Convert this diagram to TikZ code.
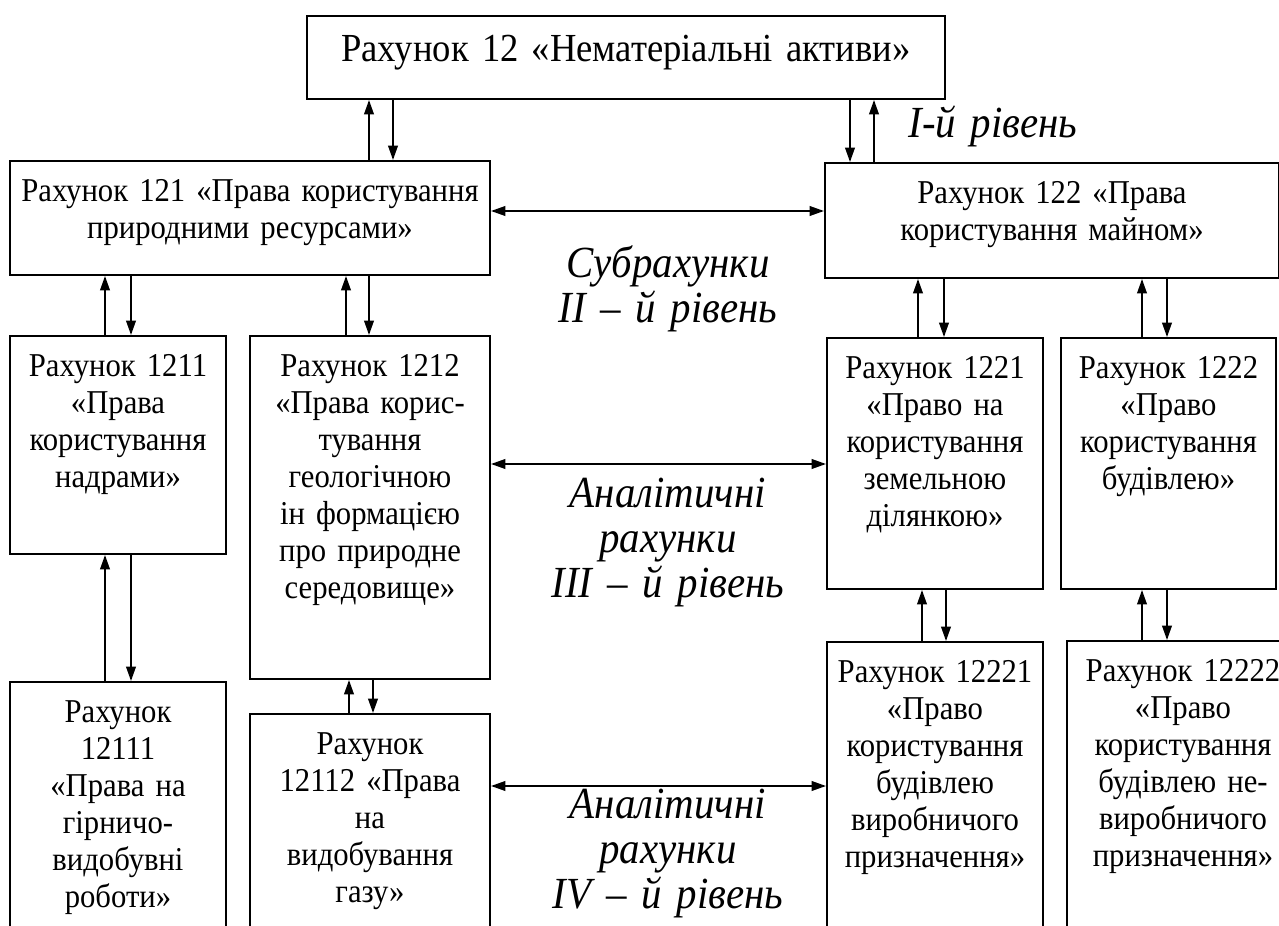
\documentclass[tikz,border=0pt]{standalone}
\usepackage{fontspec}
\setmainfont{Liberation Serif}[FakeStretch=0.92]
\usetikzlibrary{arrows.meta}

\tikzset{
    acct/.style={draw, line width=0.9pt, anchor=north west, align=center, inner sep=0pt,
        text height=18pt, font=\fontsize{15}{16.7}\selectfont},
    lvl/.style={anchor=base, align=center, text width=130pt, font=\fontsize{20}{20.3}\selectfont\itshape}
}

\begin{document}
\begin{tikzpicture}[x=0.45pt, y=-0.45pt, >={Triangle[length=6.5pt,width=4.4pt]}, line width=0.7pt]
    \clip (0,0) rectangle (1279,926);

    % accounts
    \node[acct, text width=287.1pt, text height=20.25pt, text depth=17.1pt, font=\fontsize{17.9}{19}\selectfont] (n12) at (306,15) {Рахунок 12 «Нематеріальні активи»};

    \node[acct, text width=216pt, text depth=33.3pt] (n121) at (9,160) {Рахунок 121 «Права користування\\природними ресурсами»};
    \node[acct, text width=204.3pt, text depth=33.75pt] (n122) at (824,162) {Рахунок 122 «Права\\користування майном»};

    \node[acct, text width=97.2pt, text depth=80.1pt] (n1211) at (9,335) {Рахунок 1211\\«Права\\користування\\надрами»};
    \node[acct, text width=108pt, text depth=136.35pt] (n1212) at (249,335) {Рахунок 1212\\«Права корис-\\тування\\геологічною\\ін формацією\\про природне\\середовище»};
    \node[acct, text width=97.2pt, text depth=94.95pt] (n1221) at (826,337) {Рахунок 1221\\«Право на\\користування\\земельною\\ділянкою»};
    \node[acct, text width=96.75pt, text depth=94.95pt] (n1222) at (1060,337) {Рахунок 1222\\«Право\\користування\\будівлею»};

    \node[acct, text width=97.2pt, text depth=107.55pt] (n12111) at (9,681) {Рахунок\\12111\\«Права на\\гірничо-\\видобувні\\роботи»};
    \node[acct, text width=108pt, text depth=93.15pt] (n12112) at (249,713) {Рахунок\\12112 «Права\\на\\видобування\\газу»};
    \node[acct, text width=97.2pt, text depth=125.55pt] (n12221) at (826,641) {Рахунок 12221\\«Право\\користування\\будівлею\\виробничого\\призначення»};
    \node[acct, text width=104.4pt, text depth=126pt] (n12222) at (1066,640) {Рахунок 12222\\«Право\\користування\\будівлею не-\\виробничого\\призначення»};

    % levels
    \node[lvl] (l1) at (993,137) {І-й рівень};
    \node[lvl] (l2) at (668,277) {Субрахунки\\ІІ – й рівень};
    \node[lvl] (l3) at (668,507) {Аналітичні\\рахунки\\ІІІ – й рівень};
    \node[lvl] (l4) at (668,818) {Аналітичні\\рахунки\\IV – й рівень};

    % up and down
    \draw[->] (369,0 |- n121.north) -- (369,0 |- n12.south);
    \draw[->] (393,0 |- n12.south) -- (393,0 |- n121.north);
    \draw[->] (850,0 |- n12.south) -- (850,0 |- n122.north);
    \draw[->] (874,0 |- n122.north) -- (874,0 |- n12.south);

    \draw[->] (105,0 |- n1211.north) -- (105,0 |- n121.south);
    \draw[->] (131,0 |- n121.south) -- (131,0 |- n1211.north);
    \draw[->] (346,0 |- n1212.north) -- (346,0 |- n121.south);
    \draw[->] (369,0 |- n121.south) -- (369,0 |- n1212.north);
    \draw[->] (918,0 |- n1221.north) -- (918,0 |- n122.south);
    \draw[->] (944,0 |- n122.south) -- (944,0 |- n1221.north);
    \draw[->] (1142,0 |- n1222.north) -- (1142,0 |- n122.south);
    \draw[->] (1167,0 |- n122.south) -- (1167,0 |- n1222.north);

    \draw[->] (105,0 |- n12111.north) -- (105,0 |- n1211.south);
    \draw[->] (131,0 |- n1211.south) -- (131,0 |- n12111.north);
    \draw[->] (349,0 |- n12112.north) -- (349,0 |- n1212.south);
    \draw[->] (373,0 |- n1212.south) -- (373,0 |- n12112.north);
    \draw[->] (922,0 |- n12221.north) -- (922,0 |- n1221.south);
    \draw[->] (946,0 |- n1221.south) -- (946,0 |- n12221.north);
    \draw[->] (1142,0 |- n12222.north) -- (1142,0 |- n1222.south);
    \draw[->] (1167,0 |- n1222.south) -- (1167,0 |- n12222.north);

    % across
    \draw[<->] (n121.east |- 0,211) -- (n122.west |- 0,211);
    \draw[<->] (n1212.east |- 0,464) -- (n1221.west |- 0,464);
    \draw[<->] (n12112.east |- 0,786) -- (n12221.west |- 0,786);
\end{tikzpicture}
\end{document}
